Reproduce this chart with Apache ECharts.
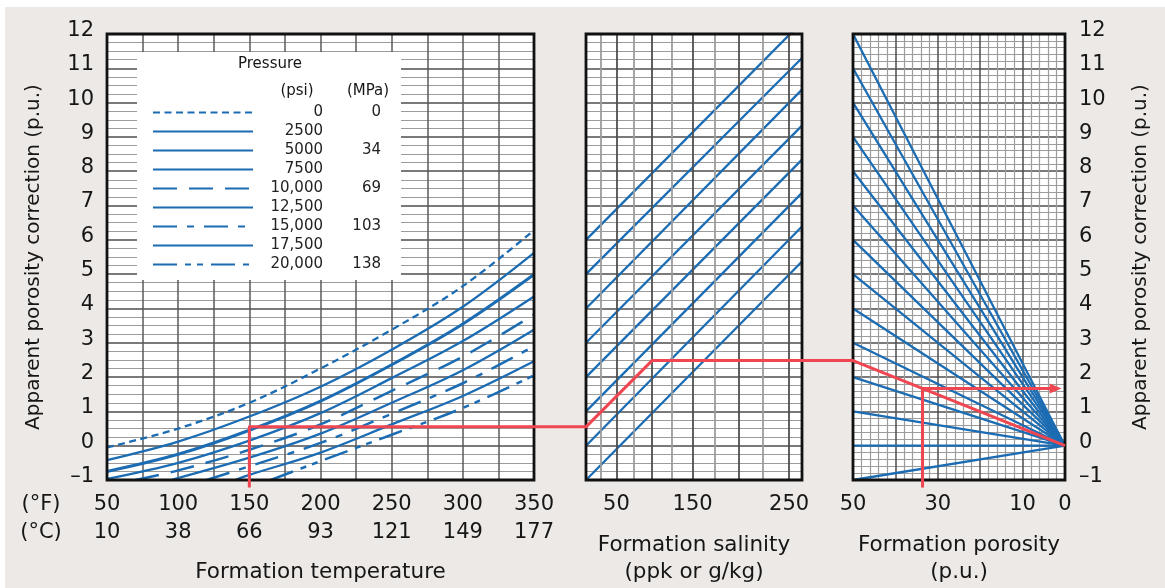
<!DOCTYPE html>
<html><head><meta charset="utf-8">
<script src="https://cdn.jsdelivr.net/npm/echarts@6/dist/echarts.min.js"></script>
<style>
html,body{margin:0;padding:0;background:#fff;width:1165px;height:588px;overflow:hidden}
#c{position:absolute;left:5px;top:7px;width:1160px;height:581px}
</style></head>
<body><div id="c"></div>
<script>
// ---------- DATA ----------
const tempF = [50, 100, 150, 200, 250, 300, 350];
const tempC = [10, 38, 66, 93, 121, 149, 177];
const pressurePsi = ['0', '2500', '5000', '7500', '10,000', '12,500', '15,000', '17,500', '20,000'];
const pressureMPa = ['0', '', '34', '', '69', '', '103', '', '138'];
// correction (p.u.) vs formation temperature (°F), one array per pressure
const corrP0     = [[50,-0.05],[100,0.50],[150,1.25],[200,2.25],[250,3.38],[300,4.65],[350,6.28]];
const corrP2500  = [[50,-0.42],[100,0.12],[150,0.85],[200,1.72],[250,2.80],[300,4.05],[350,5.62]];
const corrP5000  = [[50,-0.75],[100,-0.25],[150,0.45],[200,1.30],[250,2.36],[300,3.55],[350,4.99]];
const corrP7500  = [[50,-0.97],[100,-0.50],[150,0.15],[200,0.95],[250,1.97],[300,3.05],[350,4.35]];
const corrP10000 = [[70,-1.00],[100,-0.72],[150,-0.12],[200,0.62],[250,1.60],[300,2.60],[350,3.82]];
const corrP12500 = [[95,-1.00],[150,-0.35],[200,0.35],[250,1.25],[300,2.20],[350,3.38]];
const corrP15000 = [[120,-1.00],[150,-0.60],[200,0.08],[250,0.93],[300,1.82],[350,2.90]];
const corrP17500 = [[140,-1.00],[150,-0.85],[200,-0.20],[250,0.62],[300,1.45],[350,2.46]];
const corrP20000 = [[165,-1.00],[200,-0.45],[250,0.32],[300,1.10],[350,2.05]];
const pressureCurves = [corrP0, corrP2500, corrP5000, corrP7500, corrP10000, corrP12500, corrP15000, corrP17500, corrP20000];

// salinity panel (ppk): reference lines, correction at the left (0 ppk) and right (262 ppk) edges
const salinityMin = 0, salinityMax = 262;
const salinityTicks = [50, 150, 250];
const salinityGridMajor = [50, 100, 150, 200, 250];
const salinityGridMinor = [25, 75, 125, 175, 225];
const salinityLineLeft  = [6, 5, 4, 3, 2, 1, 0, -1];
const salinityLineRight = [12.35, 11.30, 10.38, 9.33, 8.34, 7.37, 6.39, 5.37];

// porosity panel: fan lines from (50 p.u., value) to (0 p.u., 0)
const porosityFanAt50 = [12, 11, 10, 9, 8, 7, 6, 5, 4, 3, 2, 1, 0, -1];
const porosityTicks = [50, 30, 10, 0];

// worked example (red path)
const exTemp = 150, exTempCorr = 0.55, exSalinity = 100, exSalCorr = 2.48, exPorosity = 33.6, exFinal = 1.67;
const yBottomExt = -1.22;

// ---------- STYLE / SCALE ----------
const FONT = '"DejaVu Sans", Verdana, sans-serif';
const BLUE = '#1b6cb3', RED = '#ef4651', INK = '#161616';
const MAJ = '#4e4e4e', MIN = '#9c9c9c';
// salinity chart scale (non-linear axis of the original nomograph)
const salX = s => 0.5587 * s + 0.001013 * s * s;

const curveStyles = [
  {width: 2.3, type: [7, 4.5]},
  {width: 2.3, type: 'solid'},
  {width: 3.0, type: 'solid'},
  {width: 2.3, type: 'solid'},
  {width: 2.5, type: [24, 12]},
  {width: 2.3, type: 'solid'},
  {width: 2.5, type: [24, 10, 7, 10]},
  {width: 2.3, type: 'solid'},
  {width: 2.5, type: [24, 8, 6, 6, 6, 8]}
];

const grids = [
  {left: 102, top: 27, width: 427, height: 446},
  {left: 581, top: 27, width: 216, height: 446},
  {left: 848, top: 27, width: 212, height: 446}
].map(g => Object.assign({show: true, backgroundColor: '#fff', borderWidth: 0,
  containLabel: false, outerBoundsMode: 'none'}, g));

const yLabel = {fontSize: 21, color: INK, fontFamily: FONT, verticalAlign: 'bottom', lineHeight: 7,
  formatter: v => v < 0 ? '\u2013' + Math.abs(v) : String(v)};
const yBase = {type: 'value', min: -1, max: 12, interval: 1,
  axisLine: {show: false}, axisTick: {show: false},
  splitLine: {show: true, lineStyle: {color: MAJ, width: 1.5}},
  minorTick: {show: false, splitNumber: 4},
  minorSplitLine: {show: true, lineStyle: {color: MIN, width: 1.2}}};
const nameStyle = {fontSize: 21.5, color: INK, fontFamily: FONT, lineHeight: 27};
const yNameStyle = {fontSize: 20, color: INK, fontFamily: FONT};

const series = [];
pressureCurves.forEach((d, i) => {
  series.push({type: 'line', name: pressurePsi[i], xAxisIndex: 0, yAxisIndex: 0, data: d,
    smooth: 0.35, symbol: 'none', silent: true, clip: true, z: 3,
    itemStyle: {color: BLUE},
    lineStyle: {color: BLUE, width: curveStyles[i].width, type: curveStyles[i].type, cap: 'butt'}});
});
// salinity panel grid lines
series.push({type: 'line', xAxisIndex: 1, yAxisIndex: 1, data: [], silent: true, z: 1,
  markLine: {silent: true, symbol: ['none', 'none'], label: {show: false}, animation: false,
    data: salinityGridMinor.map(s => ({xAxis: salX(s), lineStyle: {color: MIN, width: 1.8, type: 'solid'}}))
      .concat(salinityGridMajor.map(s => ({xAxis: salX(s), lineStyle: {color: MAJ, width: 1.8, type: 'solid'}})))}});
salinityLineLeft.forEach((v, i) => {
  series.push({type: 'line', xAxisIndex: 1, yAxisIndex: 1, symbol: 'none', silent: true, clip: true, z: 3,
    data: [[salX(salinityMin), v], [salX(salinityMax), salinityLineRight[i]]],
    lineStyle: {color: BLUE, width: 2.3}});
});
porosityFanAt50.forEach(v => {
  series.push({type: 'line', xAxisIndex: 2, yAxisIndex: 2, symbol: 'none', silent: true, clip: true, z: 3,
    data: [[50, v], [0, 0]], lineStyle: {color: BLUE, width: 2.3}});
});

const legendRich = {width: 0, align: 'right', fontSize: 15, lineHeight: 14, color: '#222', fontFamily: FONT};
const option = {
  backgroundColor: '#ECE9E6',
  animation: false,
  textStyle: {fontFamily: FONT},
  grid: grids,
  legend: {
    data: pressurePsi, orient: 'vertical', left: 132, top: 45,
    itemWidth: 100, itemHeight: 14, itemGap: 4,
    padding: [53, 20, 8, 15], backgroundColor: '#fff', selectedMode: false,
    itemStyle: {opacity: 0, color: 'rgba(0,0,0,0)', borderWidth: 0},
    formatter: n => '{p|' + n + '}{m|' + (pressureMPa[pressurePsi.indexOf(n)] || ' ') + '}',
    textStyle: {fontFamily: FONT, fontSize: 15, lineHeight: 14, color: '#222', rich: {
      p: Object.assign({}, legendRich, {width: 65}),
      m: Object.assign({}, legendRich, {width: 58})}}
  },
  xAxis: [
    {gridIndex: 0, type: 'value', min: 50, max: 350, interval: 25,
      axisLine: {show: false}, axisTick: {show: false},
      splitLine: {show: true, lineStyle: {color: '#5a5a5a', width: 1.5}},
      axisLabel: {margin: 11, showMinLabel: true, showMaxLabel: true,
        formatter: v => { const i = tempF.indexOf(v); return i < 0 ? '' : '{f|' + v + '}\n{c|' + tempC[i] + '}'; },
        rich: {f: {fontSize: 21, lineHeight: 28, color: INK, fontFamily: FONT},
               c: {fontSize: 21, lineHeight: 28, color: INK, fontFamily: FONT}}},
      name: 'Formation temperature', nameLocation: 'middle', nameGap: 79, nameTextStyle: nameStyle},
    {gridIndex: 1, type: 'value', min: salX(salinityMin), max: salX(salinityMax),
      axisLine: {show: false}, axisTick: {show: false}, splitLine: {show: false},
      axisLabel: {margin: 11, fontSize: 21, lineHeight: 28, color: INK, fontFamily: FONT,
        customValues: salinityTicks.map(salX),
        formatter: v => { let b = 0; salinityTicks.forEach((s, i) => { if (Math.abs(salX(s) - v) < Math.abs(salX(salinityTicks[b]) - v)) b = i; }); return String(salinityTicks[b]); }},
      name: 'Formation salinity\n(ppk or g/kg)', nameLocation: 'middle', nameGap: 52, nameTextStyle: nameStyle},
    {gridIndex: 2, type: 'value', min: 0, max: 50, interval: 10, inverse: true,
      axisLine: {show: false}, axisTick: {show: false},
      splitLine: {show: true, lineStyle: {color: MAJ, width: 1.5}},
      minorTick: {show: false, splitNumber: 5},
      minorSplitLine: {show: true, lineStyle: {color: MIN, width: 1.2}},
      axisLabel: {margin: 11, fontSize: 21, lineHeight: 28, color: INK, fontFamily: FONT,
        showMinLabel: true, showMaxLabel: true,
        formatter: v => porosityTicks.indexOf(v) >= 0 ? String(v) : ''},
      name: 'Formation porosity\n(p.u.)', nameLocation: 'middle', nameGap: 52, nameTextStyle: nameStyle}
  ],
  yAxis: [
    Object.assign({gridIndex: 0, axisLabel: Object.assign({margin: 13}, yLabel),
      name: 'Apparent porosity correction (p.u.)', nameLocation: 'middle', nameGap: 63, nameRotate: 90,
      nameTextStyle: yNameStyle}, yBase),
    Object.assign({gridIndex: 1, axisLabel: {show: false}}, yBase),
    Object.assign({gridIndex: 2, position: 'right', axisLabel: Object.assign({margin: 14}, yLabel),
      name: 'Apparent porosity correction (p.u.)', nameLocation: 'middle', nameGap: 66, nameRotate: 90,
      nameTextStyle: yNameStyle}, yBase, {minorTick: {show: false, splitNumber: 5}})
  ],
  series: series
};

const chart = echarts.init(document.getElementById('c'), null, {renderer: 'canvas'});
chart.setOption(option);

// ---------- overlay: borders, headers, worked example ----------
function toPx(panel, x, y) {
  const xv = panel === 1 ? salX(x) : x;
  return chart.convertToPixel({gridIndex: panel}, [xv, y]);
}
const graphics = [];
[0, 1, 2].forEach(i => {
  const r = chart.getModel().getComponent('grid', i).coordinateSystem.getRect();
  graphics.push({type: 'rect', shape: {x: r.x, y: r.y, width: r.width, height: r.height}, z: 50,
    style: {fill: null, stroke: '#111', lineWidth: 2.8}});
});
const txt = (text, x, y, size, align) => ({type: 'text', x: x, y: y, z: 60,
  style: {text: text, fill: INK, font: size + 'px ' + FONT, textAlign: align || 'center', textVerticalAlign: 'middle'}});
graphics.push(txt('Pressure', 265, 57, 15));
graphics.push(txt('(psi)', 292, 84, 15));
graphics.push(txt('(MPa)', 363, 84, 15));
const g0 = chart.getModel().getComponent('grid', 0).coordinateSystem.getRect();
graphics.push(txt('(\u00b0F)', g0.x - 66, g0.y + g0.height + 25, 21));
graphics.push(txt('(\u00b0C)', g0.x - 66, g0.y + g0.height + 53, 21));

const redPath = [
  toPx(0, exTemp, yBottomExt), toPx(0, exTemp, exTempCorr),
  toPx(1, salinityMin, exTempCorr), toPx(1, exSalinity, exSalCorr),
  toPx(2, 50, exSalCorr), toPx(2, 0, 0)
];
const redStyle = {stroke: RED, lineWidth: 3, fill: null, lineJoin: 'round'};
graphics.push({type: 'polyline', z: 70, shape: {points: redPath}, style: redStyle});
graphics.push({type: 'polyline', z: 70, shape: {points: [toPx(2, exPorosity, exFinal), toPx(2, exPorosity, yBottomExt)]}, style: redStyle});
const tip = toPx(2, 0.8, exFinal);
graphics.push({type: 'polyline', z: 70, shape: {points: [toPx(2, exPorosity, exFinal), [tip[0] - 8, tip[1]]]}, style: redStyle});
graphics.push({type: 'polygon', z: 71, shape: {points: [tip, [tip[0] - 12, tip[1] - 5], [tip[0] - 12, tip[1] + 5]]}, style: {fill: RED}});
chart.setOption({graphic: graphics});
</script>
</body></html>
